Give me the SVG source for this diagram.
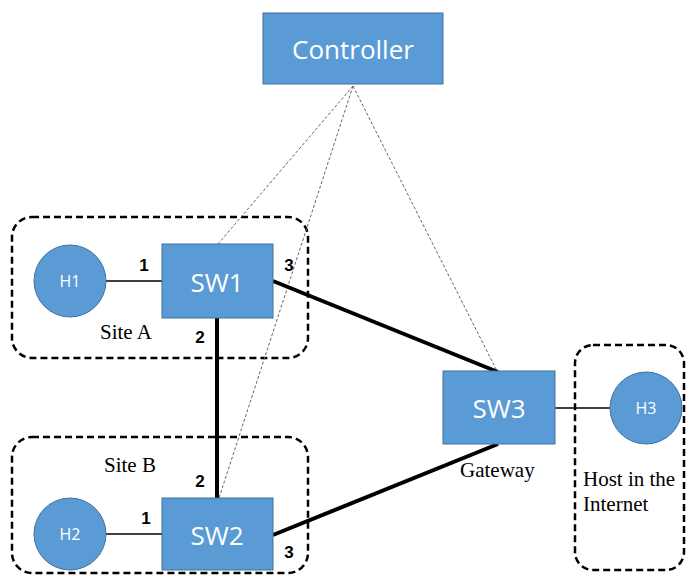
<svg xmlns="http://www.w3.org/2000/svg" width="686" height="576" viewBox="0 0 686 576">
<style>
.box{fill:#5B9BD5;stroke:#41719C;stroke-width:1}
.lbl{fill:#fff;font-family:"Open Sans","Liberation Sans",sans-serif;text-anchor:middle}
.site{fill:none;stroke:#000;stroke-width:2.5;stroke-dasharray:7,4}
.ser{font-family:"Liberation Serif",serif;font-size:21px;fill:#000}
.num{font-family:"Liberation Sans",sans-serif;font-size:17px;font-weight:bold;fill:#000;text-anchor:middle}
.thick{stroke:#000;stroke-width:4;fill:none}
.thin{stroke:#000;stroke-width:1.5;fill:none}
.ctl{stroke:#666;stroke-width:1;stroke-dasharray:3,2;fill:none}
</style>
<rect width="686" height="576" fill="#fff"/>
<g id="siteA"><rect class="site" x="12" y="217" width="296" height="141" rx="20"/><text class="ser" x="100" y="339">Site A</text></g>
<g id="siteB"><rect class="site" x="12" y="437" width="296" height="136" rx="20"/><text class="ser" x="104" y="472">Site B</text></g>
<g id="internet"><rect class="site" x="575" y="345" width="109" height="225" rx="18"/><text class="ser" x="583" y="486">Host in the</text><text class="ser" x="583" y="511">Internet</text></g>
<g id="connectors">
<line class="ctl" x1="353" y1="86" x2="218" y2="244"/>
<line class="ctl" x1="353" y1="86" x2="219" y2="498"/>
<line class="ctl" x1="353" y1="86" x2="497" y2="371"/>
<line class="thin" x1="106" y1="281" x2="162" y2="281"/>
<line class="thin" x1="106" y1="534" x2="162" y2="534"/>
<line class="thin" x1="555" y1="408" x2="610" y2="408"/>
<line class="thick" x1="217" y1="318" x2="217" y2="498"/>
<line class="thick" x1="273" y1="281" x2="498" y2="372"/>
<line class="thick" x1="273" y1="535" x2="498" y2="444"/>
</g>
<g id="controller"><rect class="box" x="263" y="13" width="180" height="71"/><text class="lbl" x="353" y="59" font-size="26">Controller</text></g>
<g id="sw1"><rect class="box" x="162" y="244" width="111" height="74"/><text class="lbl" x="217" y="292" font-size="26">SW1</text></g>
<g id="sw2"><rect class="box" x="162" y="498" width="111" height="72"/><text class="lbl" x="217" y="545" font-size="26">SW2</text></g>
<g id="sw3"><rect class="box" x="443" y="371" width="112" height="73"/><text class="lbl" x="499" y="418" font-size="26">SW3</text></g>
<g id="h1"><circle class="box" cx="70" cy="281" r="36"/><text class="lbl" x="70" y="287" font-size="16">H1</text></g>
<g id="h2"><circle class="box" cx="70" cy="534" r="36"/><text class="lbl" x="70" y="540" font-size="16">H2</text></g>
<g id="h3"><circle class="box" cx="646" cy="408" r="36"/><text class="lbl" x="646" y="414" font-size="16">H3</text></g>
<g id="labels">
<text class="num" x="144" y="271">1</text>
<text class="num" x="289" y="271">3</text>
<text class="num" x="200" y="343">2</text>
<text class="num" x="200" y="487">2</text>
<text class="num" x="146" y="524">1</text>
<text class="num" x="289" y="558">3</text>
<text class="ser" x="460" y="477">Gateway</text>
</g>
</svg>
